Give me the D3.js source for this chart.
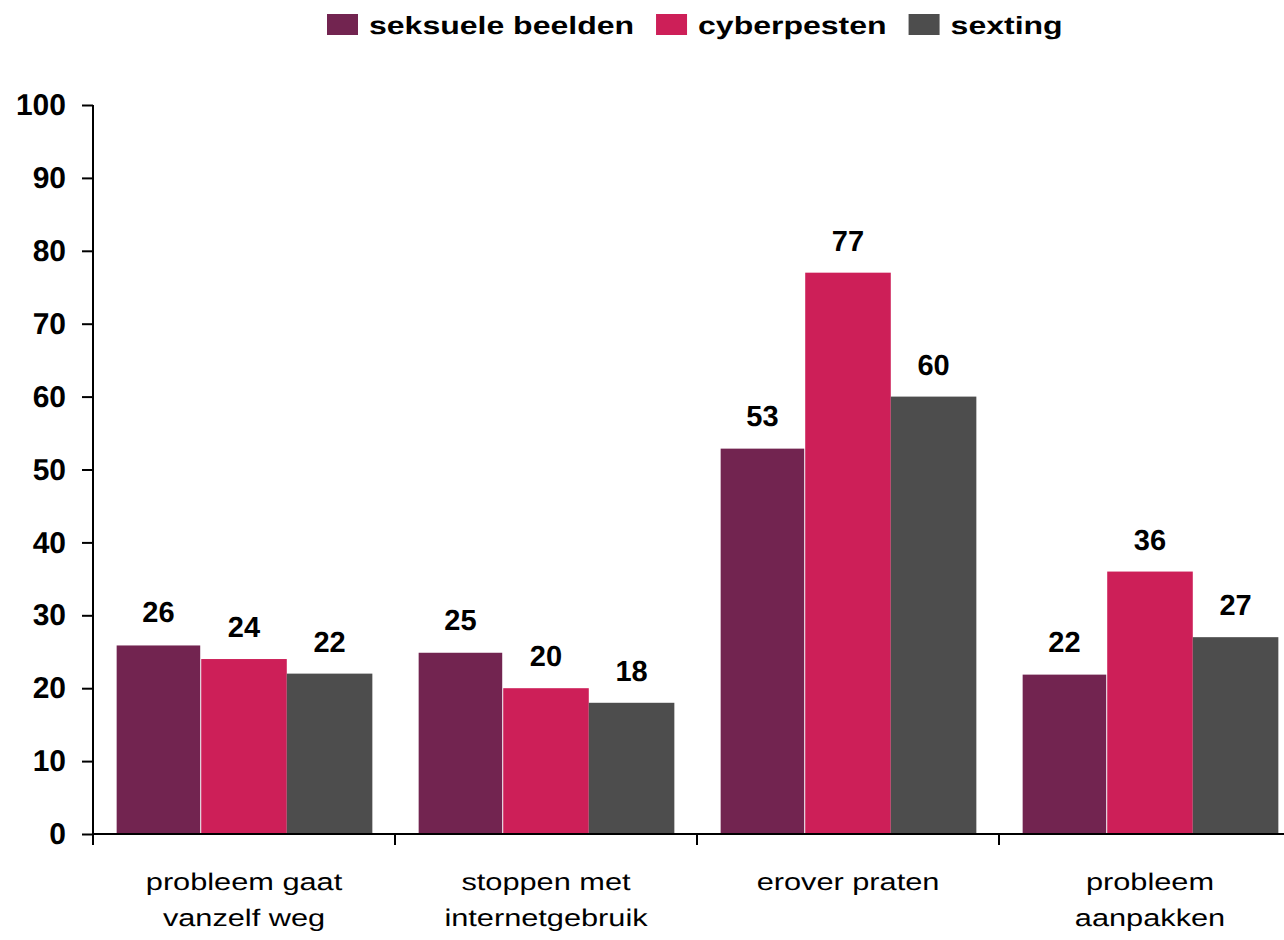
<!DOCTYPE html>
<html>
<head>
<meta charset="utf-8">
<script src="https://cdn.jsdelivr.net/npm/d3@7"></script>
<style>
  body { margin: 0; background: #fff; }
  svg { display: block; font-family: "Liberation Sans", Arial, sans-serif; text-rendering: geometricPrecision; }
</style>
</head>
<body>
<script>
// data
var categories = [["probleem gaat", "vanzelf weg"], ["stoppen met", "internetgebruik"], ["erover praten"], ["probleem", "aanpakken"]];
var seriesNames = ["seksuele beelden", "cyberpesten", "sexting"];
var seksueleBeelden = [26, 25, 53, 22];
var cyberpesten = [24, 20, 77, 36];
var sexting = [22, 18, 60, 27];
var yTicks = [0, 10, 20, 30, 40, 50, 60, 70, 80, 90, 100];
var colors = ["#722450", "#CD1F58", "#4D4D4D"];

var values = [seksueleBeelden, cyberpesten, sexting];
var W = 1284, H = 940;
var plotLeft = 93, plotBottom = 834, plotTop = 105, step = 302;
var stretch = 1.28;

var svg = d3.select("body").append("svg").attr("width", W).attr("height", H);

var catIdx = d3.range(categories.length);
var x0 = d3.scaleBand().domain(catIdx).range([plotLeft, plotLeft + step * categories.length])
  .paddingInner(0.15).paddingOuter(0.075);
var x1 = d3.scaleBand().domain(d3.range(seriesNames.length)).range([0, x0.bandwidth()]);
var y = d3.scaleLinear().domain([0, 100]).range([plotBottom, plotTop]);

// bars
var groups = svg.append("g").selectAll("g").data(catIdx).enter().append("g")
  .attr("transform", function(i) { return "translate(" + x0(i) + ",0)"; });
groups.selectAll("rect").data(function(i) { return values.map(function(s, k) { return {k: k, v: s[i]}; }); })
  .enter().append("rect")
  .attr("x", function(d) { return x1(d.k); })
  .attr("y", function(d) { return y(d.v); })
  .attr("width", x1.bandwidth())
  .attr("height", function(d) { return plotBottom - y(d.v); })
  .attr("fill", function(d) { return colors[d.k]; })
  .attr("stroke", function(d) { return d.k === 0 ? "#fff" : "none"; })
  .attr("stroke-width", 2);
groups.selectAll("text").data(function(i) { return values.map(function(s, k) { return {k: k, v: s[i]}; }); })
  .enter().append("text")
  .attr("x", function(d) { return x1(d.k) + x1.bandwidth() / 2; })
  .attr("y", function(d) { return y(d.v) - 22; })
  .attr("text-anchor", "middle")
  .attr("font-weight", "bold").attr("font-size", 29)
  .text(function(d) { return d.v; });

// y axis
var yAxis = svg.append("g").attr("transform", "translate(" + plotLeft + ",0)")
  .call(d3.axisLeft(y).tickValues(yTicks).tickSize(11).tickPadding(16));
yAxis.select(".domain").attr("stroke", "#000").attr("stroke-width", 2).attr("d", "M0," + (plotBottom + 1) + "V" + plotTop);
yAxis.selectAll(".tick line").attr("stroke", "#000").attr("stroke-width", 2);
yAxis.selectAll(".tick text").attr("font-size", 30).attr("font-weight", "bold").attr("fill", "#000")
  .attr("font-family", "Liberation Sans, Arial, sans-serif");

// x axis
var xEdges = catIdx.concat([categories.length]).map(function(i) { return plotLeft + i * step; });
var xAxis = svg.append("g");
xAxis.append("line").attr("x1", plotLeft).attr("x2", W).attr("y1", plotBottom).attr("y2", plotBottom)
  .attr("stroke", "#000").attr("stroke-width", 2);
xAxis.selectAll("line.tk").data(xEdges).enter().append("line").attr("class", "tk")
  .attr("x1", function(d) { return d; }).attr("x2", function(d) { return d; })
  .attr("y1", plotBottom).attr("y2", plotBottom + 11)
  .attr("stroke", "#000").attr("stroke-width", 2);
catIdx.forEach(function(i) {
  var cx = x0(i) + x0.bandwidth() / 2;
  categories[i].forEach(function(line, j) {
    svg.append("text")
      .attr("transform", "translate(" + cx + "," + (890 + j * 36) + ") scale(" + stretch + ",1)")
      .attr("text-anchor", "middle").attr("font-size", 24).attr("fill", "#000")
      .text(line);
  });
});

// legend
var lx = 327;
seriesNames.forEach(function(name, k) {
  svg.append("rect").attr("x", lx).attr("y", 14).attr("width", 31).attr("height", 21).attr("fill", colors[k]);
  var t = svg.append("text")
    .attr("transform", "translate(" + (lx + 42) + ",34) scale(" + stretch + ",1)")
    .attr("font-size", 25).attr("font-weight", "bold").attr("fill", "#000")
    .text(name);
  lx = lx + 42 + t.node().getComputedTextLength() * stretch + 22;
});
</script>
</body>
</html>
